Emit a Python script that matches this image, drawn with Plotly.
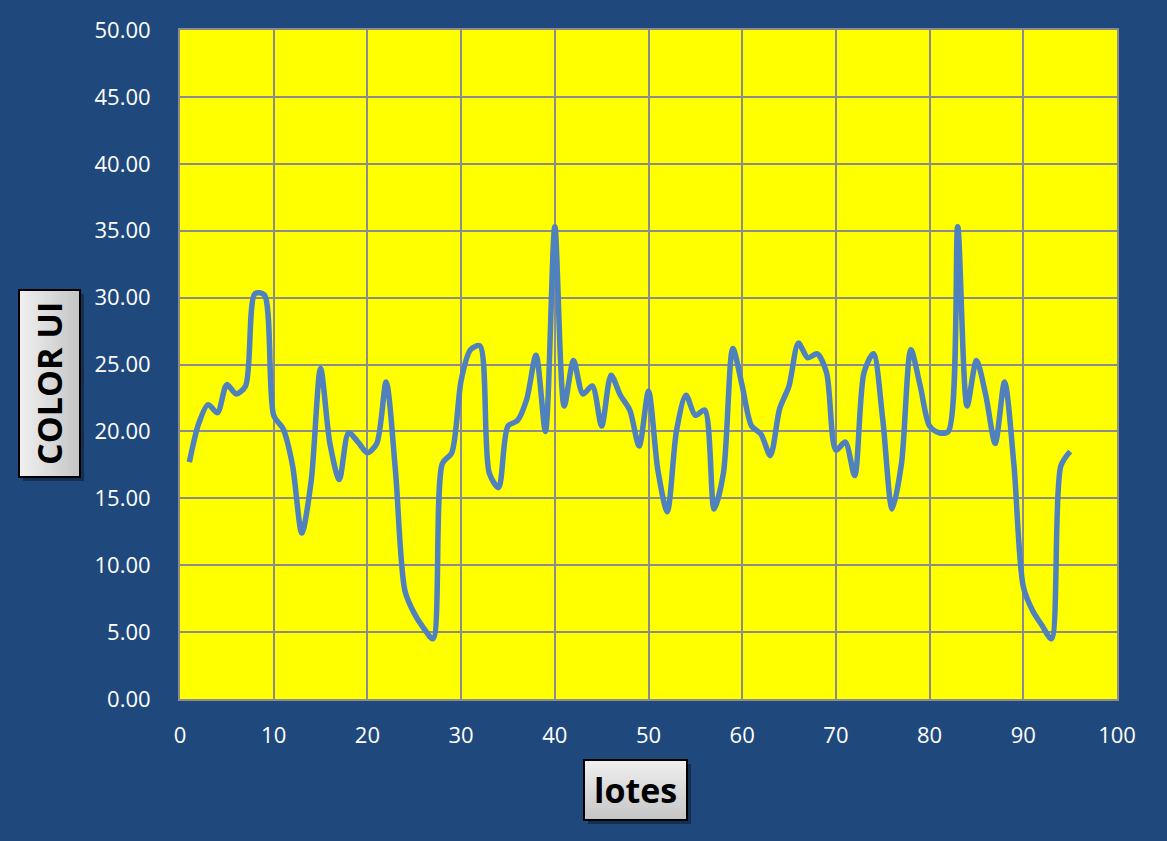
import plotly.graph_objects as go

# Lot numbers and measured colour (UI) per lot
lotes = list(range(1, 96))
color_ui = [
    17.7, 20.6, 22.0, 21.4, 23.5, 22.8, 23.4, 30.3, 30.2, 21.2,
    20.2, 17.5, 12.4, 16.3, 24.7, 19.1, 16.4, 19.9, 19.2, 18.4,
    19.1, 23.7, 17.0, 8.1, 6.4, 5.3, 4.5, 17.6, 18.4, 23.8,
    26.1, 26.4, 16.9, 15.8, 20.4, 20.8, 22.4, 25.7, 20.0, 35.3,
    21.9, 25.3, 22.8, 23.4, 20.4, 24.2, 22.7, 21.6, 18.9, 23.0,
    17.1, 14.0, 20.1, 22.7, 21.2, 21.6, 14.2, 16.9, 26.2, 23.4,
    20.4, 19.8, 18.2, 21.7, 23.4, 26.6, 25.5, 25.8, 24.4, 18.6,
    19.2, 16.7, 24.4, 25.8, 20.9, 14.2, 17.6, 26.1, 23.4, 20.4,
    19.9, 20.0, 35.3, 21.9, 25.3, 22.7, 19.1, 23.7, 17.5, 8.4,
    6.6, 5.5, 4.5, 17.4, 18.5,
]

x_title = "lotes"
y_title = "COLOR UI"

BG = "#1F497D"
PLOT_BG = "#FFFF00"
GRID = "#8C8C8C"
LINE = "#4F81BD"
FONT = "Open Sans"

fig = go.Figure(
    go.Scatter(
        x=lotes,
        y=color_ui,
        mode="lines",
        line=dict(color=LINE, width=5.5, shape="spline", smoothing=0.8),
        hoverinfo="x+y",
    )
)

axis_common = dict(
    showgrid=True,
    gridcolor=GRID,
    gridwidth=2,
    showline=True,
    linecolor=GRID,
    linewidth=2,
    mirror=True,
    zeroline=False,
    ticks="",
    tickfont=dict(family=FONT, size=22, color="white"),
)

fig.update_xaxes(range=[0, 100], dtick=10, tick0=0, ticklabelstandoff=16, **axis_common)
fig.update_yaxes(range=[0, 50], dtick=5, tick0=0, tickformat=".2f", ticklabelstandoff=23, **axis_common)

W, H = 1167, 841
ml, mr, mt, mb = 180, 50, 30, 142
pw, ph = W - ml - mr, H - mt - mb


def px_to_paper(px, py):
    return (px - ml) / pw, (H - mb - py) / ph


def rect(a, b, c, d, **kw):
    x0, y0 = px_to_paper(a, d)
    x1, y1 = px_to_paper(c, b)
    return dict(type="rect", xref="paper", yref="paper", layer="above",
                x0=x0, y0=y0, x1=x1, y1=y1, **kw)


def shadow_box(a, b, c, d, off=4):
    return rect(a + off, b + off, c + off, d + off, line=dict(width=0),
                fillcolor="rgba(0,0,0,0.35)")


# light-to-grey gradient fill: overlapping rectangles, each one starting a
# little further along and slightly darker, so no seams appear between bands
def gradient_box(a, b, c, d, along_x):
    out = []
    n = 24
    for i in range(n):
        g = int(240 - 42 * i / (n - 1))
        col = f"rgb({g},{g},{g})"
        if along_x:
            s = a + (c - a) * i / n
            out.append(rect(s, b, c, d, line=dict(width=0), fillcolor=col))
        else:
            s = b + (d - b) * i / n
            out.append(rect(a, s, c, d, line=dict(width=0), fillcolor=col))
    out.append(rect(a, b, c, d, line=dict(color="black", width=2),
                    fillcolor="rgba(0,0,0,0)"))
    return out


ybox = (19, 290, 80, 477)
xbox = (584, 760, 687, 820)

shapes = [shadow_box(*ybox), shadow_box(*xbox)]
shapes += gradient_box(*ybox, True)
shapes += gradient_box(*xbox, False)

yx, yy = px_to_paper((ybox[0] + ybox[2]) / 2, (ybox[1] + ybox[3]) / 2)
xx, xy = px_to_paper((xbox[0] + xbox[2]) / 2, (xbox[1] + xbox[3]) / 2)

annotations = [
    dict(text=f"<b>{y_title}</b>", xref="paper", yref="paper", x=yx, y=yy,
         showarrow=False, textangle=-90, xanchor="center", yanchor="middle",
         font=dict(family=FONT, size=34, color="black")),
    dict(text=f"<b>{x_title}</b>", xref="paper", yref="paper", x=xx, y=xy,
         showarrow=False, xanchor="center", yanchor="middle",
         font=dict(family=FONT, size=34, color="black")),
]

fig.update_layout(
    width=W,
    height=H,
    margin=dict(l=ml, r=mr, t=mt, b=mb),
    paper_bgcolor=BG,
    plot_bgcolor=PLOT_BG,
    showlegend=False,
    shapes=shapes,
    annotations=annotations,
)

fig.write_html("out.html")
